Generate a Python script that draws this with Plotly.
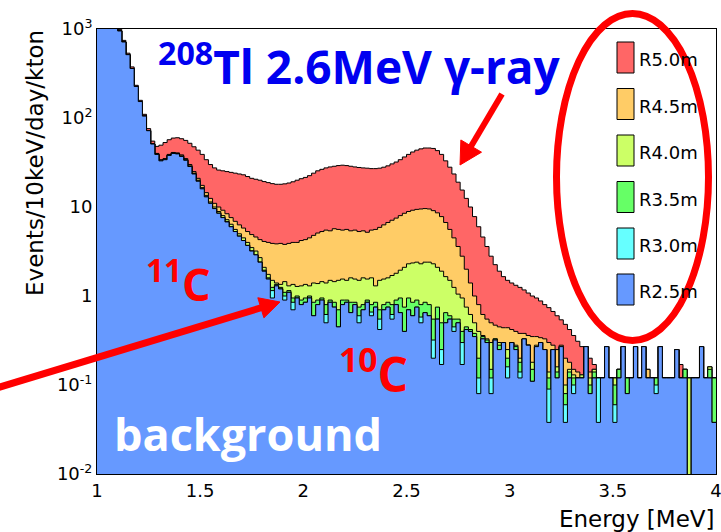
import plotly.graph_objects as go

# ---------------- data (10 keV histograms, 20 keV bins) ----------------
bin_start = 1.0
bin_width = 0.02
n_bins = 150

r50 = [2900, 2400, 1950, 1550, 1220, 990, 745, 535, 375, 233,
       158, 110, 76, 55, 48, 49.5, 53, 57, 59.5, 60,
       58.5, 56, 52, 47.5, 43.5, 39, 34, 30, 27.5, 26,
       25.5, 25, 24.5, 24, 23.5, 23, 22, 21, 20.5, 20,
       19.3, 18.8, 18.3, 18, 18, 18.2, 18.6, 19.2, 20, 20.8,
       21.5, 22.5, 24, 25.5, 26.5, 27.5, 28.2, 28.7, 29.2, 29.5,
       29.2, 28.7, 28.2, 27.8, 27.5, 27.3, 27, 27, 27.3, 28,
       29, 30.5, 32, 34, 36.5, 39, 41.5, 43.5, 45, 46,
       46, 45.5, 43, 39, 33, 28, 23.5, 19, 15.5, 12.5,
       10, 7.8, 6, 4.6, 3.6, 2.8, 2.25, 1.9, 1.65, 1.5,
       1.4, 1.32, 1.25, 1.17, 1.08, 1.0, 0.95, 0.88, 0.8, 0.74,
       0.67, 0.6, 0.54, 0.48, 0.42, 0.36, 0.31, 0.27, 0.27, 0.2,
       0.17, 0.12, 0.12, 0.27, 0.12, 0.12, 0.15, 0.27, 0.12, 0.12,
       0.27, 0.12, 0.27, 0.15, 0.12, 0.12, 0.27, 0.12, 0.12, 0.12,
       0.25, 0.17, 0.15, 0.12, 0.12, 0.12, 0.27, 0.12, 0.16, 0.12]

r45 = [2800, 2300, 1850, 1480, 1170, 950, 715, 515, 360, 226,
       153, 105, 72, 51, 40, 34, 35, 39, 41, 40.5,
       38.5, 35, 30, 25, 21, 17.5, 14.5, 12.5, 11, 10,
       9.2, 8.4, 7.6, 6.9, 6.3, 5.8, 5.3, 4.9, 4.6, 4.3,
       4.1, 4.0, 3.9, 3.85, 3.9, 3.8, 3.9, 4.0, 4.0, 4.2,
       4.3, 4.5, 4.8, 5.1, 5.3, 5.5, 5.4, 5.7, 5.6, 5.5,
       5.6, 5.4, 5.5, 5.3, 5.4, 5.2, 5.5, 5.6, 5.9, 6.3,
       6.7, 7.1, 7.5, 8.0, 8.5, 8.9, 9.2, 9.4, 9.5, 9.6,
       9.5, 9.1, 8.6, 7.8, 6.7, 5.6, 4.5, 3.6, 2.8, 2.0,
       1.4, 1.0, 0.8, 0.62, 0.55, 0.5, 0.47, 0.45, 0.44, 0.44,
       0.42, 0.4, 0.38, 0.38, 0.36, 0.35, 0.35, 0.34, 0.33, 0.3,
       0.28, 0.25, 0.28, 0.2, 0.18, 0.15, 0.14, 0.13, 0.27, 0.14,
       0.15, 0.12, 0.12, 0.27, 0.12, 0.12, 0.15, 0.27, 0.12, 0.12,
       0.27, 0.12, 0.27, 0.15, 0.12, 0.12, 0.27, 0.12, 0.12, 0.12,
       0.25, 0.12, 0.15, 0.12, 0.12, 0.12, 0.27, 0.12, 0.16, 0.12]

r40 = [2800, 2300, 1850, 1480, 1170, 950, 715, 515, 360, 226,
       153, 105, 72, 51, 39.5, 33.5, 34.5, 38.5, 40.5, 40,
       37.5, 34, 29, 24, 20, 16.5, 13.5, 11.4, 10, 8.9,
       8.0, 7.2, 6.4, 5.6, 5.0, 4.5, 4.0, 3.5, 3.2, 2.7,
       2.1, 1.75, 1.5, 1.4, 1.35, 1.45, 1.3, 1.35, 1.28, 1.3,
       1.35, 1.3, 1.4, 1.38, 1.45, 1.4, 1.5, 1.45, 1.5, 1.55,
       1.5, 1.6, 1.55, 1.5, 1.6, 1.55, 1.6, 1.3, 1.5, 1.55,
       1.6, 1.7, 1.8, 1.95, 2.1, 2.3, 2.35, 2.4, 2.3, 2.4,
       2.4, 2.3, 2.1, 1.9, 1.65, 1.5, 1.25, 1.05, 0.95, 0.75,
       0.62, 0.5, 0.4, 0.36, 0.33, 0.3, 0.33, 0.3, 0.3, 0.25,
       0.3, 0.28, 0.2, 0.33, 0.28, 0.18, 0.28, 0.3, 0.25, 0.14,
       0.25, 0.16, 0.27, 0.1, 0.15, 0.13, 0.12, 0.13, 0.27, 0.12,
       0.15, 0.12, 0.12, 0.27, 0.12, 0.12, 0.15, 0.27, 0.12, 0.12,
       0.27, 0.12, 0.27, 0.12, 0.12, 0.12, 0.27, 0.12, 0.12, 0.12,
       0.25, 0.12, 0.15, 0.12, 0.12, 0.12, 0.27, 0.12, 0.16, 0.12]

r35 = [2800, 2300, 1850, 1480, 1170, 950, 715, 515, 360, 226,
       153, 105, 72, 51, 39, 33, 34, 38, 40, 39.5,
       37, 33.5, 28.5, 23.5, 19.5, 16, 13, 11, 9.6, 8.5,
       7.6, 6.8, 6.0, 5.3, 4.7, 4.2, 3.7, 3.2, 2.9, 2.4,
       1.95, 1.6, 1.25, 1.35, 1.25, 1.1, 1.15, 0.95, 1.0, 0.9,
       0.95, 1.0, 0.85, 0.9, 0.95, 0.8, 0.9, 0.85, 0.7, 0.9,
       0.9, 0.85, 0.85, 0.75, 0.8, 0.9, 0.8, 0.85, 0.7, 0.8,
       0.85, 0.8, 0.9, 0.95, 0.75, 0.95, 0.85, 0.9, 0.8, 0.85,
       0.8, 0.55, 0.75, 0.5, 0.65, 0.6, 0.55, 0.55, 0.4, 0.45,
       0.42, 0.38, 0.2, 0.35, 0.32, 0.15, 0.33, 0.28, 0.3, 0.2,
       0.3, 0.27, 0.18, 0.33, 0.28, 0.15, 0.27, 0.3, 0.25, 0.12,
       0.25, 0.14, 0.27, 0.08, 0.14, 0.12, 0.12, 0.12, 0.27, 0.1,
       0.14, 0.12, 0.12, 0.27, 0.12, 0.1, 0.15, 0.27, 0.12, 0.12,
       0.27, 0.12, 0.27, 0.12, 0.12, 0.12, 0.27, 0.12, 0.12, 0.12,
       0.25, 0.12, 0.15, 0.005, 0.12, 0.12, 0.27, 0.12, 0.15, 0.12]

r30 = [2800, 2300, 1850, 1480, 1170, 950, 715, 515, 360, 226,
       153, 105, 72, 51, 39, 33, 34, 38, 40, 39.5,
       37, 33.5, 28.5, 23.5, 19.5, 16, 13, 11, 9.6, 8.5,
       7.6, 6.8, 6.0, 5.3, 4.7, 4.2, 3.7, 3.2, 2.9, 2.4,
       1.9, 1.55, 1.15, 1.3, 1.2, 1.0, 1.1, 0.85, 0.95, 0.8,
       0.85, 0.95, 0.6, 0.8, 0.9, 0.62, 0.85, 0.75, 0.45, 0.8,
       0.85, 0.65, 0.8, 0.6, 0.7, 0.85, 0.66, 0.75, 0.55, 0.7,
       0.75, 0.62, 0.8, 0.65, 0.4, 0.7, 0.6, 0.75, 0.58, 0.65,
       0.6, 0.32, 0.55, 0.25, 0.5, 0.55, 0.45, 0.5, 0.3, 0.42,
       0.4, 0.35, 0.12, 0.33, 0.3, 0.12, 0.32, 0.25, 0.3, 0.16,
       0.3, 0.25, 0.14, 0.33, 0.28, 0.11, 0.27, 0.3, 0.25, 0.09,
       0.25, 0.12, 0.27, 0.06, 0.12, 0.1, 0.12, 0.12, 0.27, 0.08,
       0.12, 0.12, 0.12, 0.27, 0.12, 0.06, 0.12, 0.27, 0.08, 0.12,
       0.27, 0.12, 0.27, 0.12, 0.12, 0.1, 0.27, 0.12, 0.12, 0.12,
       0.25, 0.12, 0.12, 0.005, 0.12, 0.12, 0.27, 0.12, 0.12, 0.038]

r25 = [2800, 2300, 1850, 1480, 1170, 950, 715, 515, 360, 226,
       153, 105, 72, 51, 39, 33, 34, 38, 40, 39.5,
       37, 33.5, 28.5, 23.5, 19.5, 16, 13, 11, 9.6, 8.5,
       7.6, 6.8, 6.0, 5.3, 4.7, 4.2, 3.7, 3.2, 2.9, 2.4,
       1.9, 1.55, 0.95, 1.3, 1.2, 0.9, 1.1, 0.7, 0.95, 0.8,
       0.85, 0.95, 0.6, 0.8, 0.9, 0.5, 0.85, 0.75, 0.45, 0.8,
       0.85, 0.65, 0.8, 0.5, 0.7, 0.85, 0.6, 0.75, 0.42, 0.7,
       0.75, 0.55, 0.8, 0.65, 0.4, 0.7, 0.6, 0.75, 0.5, 0.65,
       0.6, 0.2, 0.55, 0.17, 0.5, 0.55, 0.4, 0.5, 0.17, 0.42,
       0.4, 0.35, 0.08, 0.33, 0.3, 0.08, 0.32, 0.25, 0.3, 0.12,
       0.3, 0.25, 0.12, 0.33, 0.28, 0.11, 0.27, 0.3, 0.25, 0.038,
       0.25, 0.12, 0.27, 0.038, 0.12, 0.08, 0.12, 0.12, 0.27, 0.08,
       0.12, 0.038, 0.12, 0.27, 0.12, 0.038, 0.12, 0.27, 0.08, 0.12,
       0.27, 0.12, 0.27, 0.12, 0.12, 0.08, 0.27, 0.12, 0.12, 0.12,
       0.25, 0.12, 0.12, 0.005, 0.12, 0.12, 0.27, 0.12, 0.12, 0.038]

series_names = ["R5.0m", "R4.5m", "R4.0m", "R3.5m", "R3.0m", "R2.5m"]
series_values = [r50, r45, r40, r35, r30, r25]
series_colors = ["#ff6666", "#ffcc66", "#ccff66", "#66ff66", "#66ffff", "#6699ff"]

x_ticks = [1, 1.5, 2, 2.5, 3, 3.5, 4]
x_ticktext = ["1", "1.5", "2", "2.5", "3", "3.5", "4"]
y_ticks = [0.01, 0.1, 1, 10, 100, 1000]
y_ticktext = ["10<sup>-2</sup>", "10<sup>-1</sup>", "1", "10", "10<sup>2</sup>", "10<sup>3</sup>"]

# ---------------- layout geometry (pixels) ----------------
W, H = 721, 532
L, R, T, B = 97, 5, 29, 58
PW, PH = W - L - R, H - T - B


def px(x):
    return (x - L) / PW


def py(y):
    return (H - B - y) / PH


edges = [round(bin_start + i * bin_width, 4) for i in range(n_bins + 1)]

fig = go.Figure()
for name, vals, col in zip(series_names, series_values, series_colors):
    fig.add_trace(go.Scatter(
        x=edges, y=list(vals) + [vals[-1]], name=name, mode="lines",
        line=dict(shape="hv", color="black", width=1),
        fill="tozeroy", fillcolor=col, showlegend=False, hoverinfo="skip"))

tick_font = dict(family="DejaVu Sans", size=18, color="black")
fig.update_xaxes(type="linear", range=[1, 4], tickvals=x_ticks, ticktext=x_ticktext,
                 showgrid=False, zeroline=False, ticks="", tickfont=tick_font,
                 ticklabeloverflow="allow", automargin=False,
                 showline=True, mirror=True, linecolor="black", linewidth=1,
                 layer="below traces")
fig.update_yaxes(type="log", range=[-2, 3], tickvals=y_ticks, ticktext=y_ticktext,
                 showgrid=False, zeroline=False, ticks="", tickfont=tick_font,
                 ticklabeloverflow="allow", automargin=False,
                 showline=True, mirror=True, linecolor="black", linewidth=1,
                 layer="below traces")

shapes = []
annotations = []

# legend (manual, ROOT style)
box_tops = [42, 88.5, 135, 181.5, 228, 274]
for name, col, top in zip(series_names, series_colors, box_tops):
    shapes.append(dict(type="rect", xref="paper", yref="paper",
                       x0=px(617), x1=px(634), y0=py(top + 31), y1=py(top),
                       fillcolor=col, line=dict(color="black", width=1)))
    annotations.append(dict(text=name, xref="paper", yref="paper", x=px(637),
                            y=py(top + 15.5 + 2), xanchor="left", yanchor="middle",
                            showarrow=False,
                            font=dict(family="DejaVu Sans", size=18, color="black")))

# red ellipse round the legend
shapes.append(dict(type="circle", xref="paper", yref="paper",
                   x0=px(556.5), x1=px(708.5), y0=py(340.5), y1=py(13.5),
                   line=dict(color="#ff0000", width=7)))


def arrow(tail, tip, head_len, head_half, width):
    dx, dy = tip[0] - tail[0], tip[1] - tail[1]
    n = (dx * dx + dy * dy) ** 0.5
    ux, uy = dx / n, dy / n
    bx, by = tip[0] - ux * head_len, tip[1] - uy * head_len
    shapes.append(dict(type="line", xref="paper", yref="paper",
                       x0=px(tail[0]), y0=py(tail[1]),
                       x1=px(bx + ux * 2), y1=py(by + uy * 2),
                       line=dict(color="#ff0000", width=width)))
    c1 = (bx - uy * head_half, by + ux * head_half)
    c2 = (bx + uy * head_half, by - ux * head_half)
    path = "M {} {} L {} {} L {} {} Z".format(px(tip[0]), py(tip[1]), px(c1[0]), py(c1[1]),
                                             px(c2[0]), py(c2[1]))
    shapes.append(dict(type="path", xref="paper", yref="paper", path=path,
                       fillcolor="#ff0000", line=dict(color="#ff0000", width=1)))


arrow((-5, 388.5), (280, 302), 20, 10.5, 7)
arrow((502, 94), (460, 165), 22, 12, 6)

bold_font = "Open Sans"
annotations += [
    dict(text="<b><sup>208</sup>Tl 2.6MeV γ-ray</b>", x=px(156), y=py(64), xanchor="left",
         yanchor="middle", font=dict(family=bold_font, size=46, color="#0000f0")),
    dict(text="<b><sup>11</sup>C</b>", x=px(144), y=py(281), xanchor="left",
         yanchor="middle", font=dict(family=bold_font, size=45, color="#ff0000")),
    dict(text="<b><sup>10</sup>C</b>", x=px(337), y=py(371), xanchor="left",
         yanchor="middle", font=dict(family=bold_font, size=48, color="#ff0000")),
    dict(text="<b>background</b>", x=px(112), y=py(433), xanchor="left",
         yanchor="middle", font=dict(family=bold_font, size=45, color="white")),
    dict(text="Events/10keV/day/kton", x=px(35), y=py(28), xanchor="center",
         yanchor="top", textangle=-90,
         font=dict(family="DejaVu Sans", size=23, color="black")),
    dict(text="Energy [MeV]", x=px(717), y=py(519), xanchor="right", yanchor="middle",
         font=dict(family="DejaVu Sans", size=23, color="black")),
]
for a in annotations:
    a.setdefault("xref", "paper")
    a.setdefault("yref", "paper")
    a["showarrow"] = False

fig.update_layout(width=W, height=H, margin=dict(l=L, r=R, t=T, b=B, autoexpand=False),
                  plot_bgcolor="white", paper_bgcolor="white",
                  shapes=shapes, annotations=annotations, showlegend=False)

fig.write_html("out.html")
